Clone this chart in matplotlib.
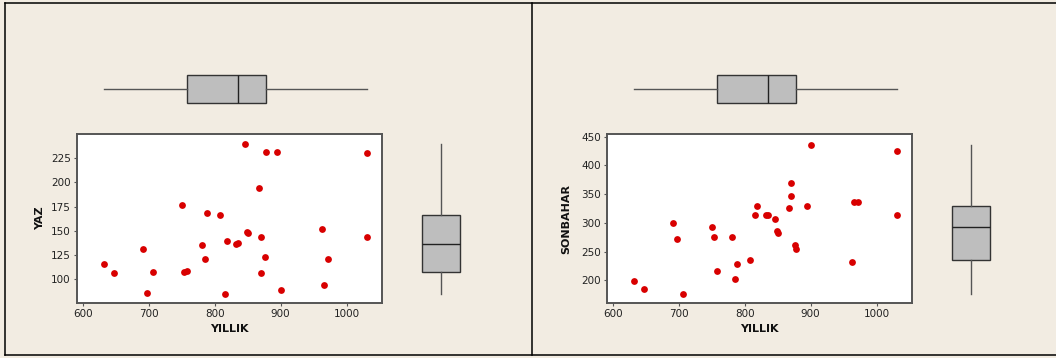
import numpy as np
import matplotlib.pyplot as plt
from matplotlib.lines import Line2D

# annual totals and seasonal values
yillik = [632, 647, 692, 698, 706, 750, 753, 758, 781, 785, 788, 808, 816, 819, 832, 835,
          846, 849, 851, 867, 870, 870, 876, 878, 894, 901, 962, 966, 972, 1031, 1031]
yaz = [116, 106, 131, 86, 107, 177, 108, 109, 135, 121, 168, 166, 85, 140, 136, 137,
       240, 149, 148, 194, 144, 106, 123, 231, 231, 89, 152, 94, 121, 230, 144]
sonbahar = [198, 185, 300, 271, 177, 292, 276, 216, 276, 203, 229, 235, 313, 329, 313, 313,
            306, 286, 282, 326, 370, 347, 262, 255, 329, 436, 232, 336, 336, 425, 313]

x_ticks = [600, 700, 800, 900, 1000]
yaz_ticks = [100, 125, 150, 175, 200, 225]
son_ticks = [200, 250, 300, 350, 400, 450]

W, H = 1056, 358
BG = '#F2ECE2'
DOT = '#D80000'
BOX_FILL = '#BEBEBE'


def px_axes(fig, x0, y0, x1, y1):
    """Add axes given a pixel box (top-left origin)."""
    return fig.add_axes([x0 / W, 1 - y1 / H, (x1 - x0) / W, (y1 - y0) / H])


def box_stats(values):
    """Quartiles the way Minitab computes them, whiskers at 1.5 IQR."""
    v = np.asarray(values, dtype=float)
    q1, med, q3 = np.percentile(v, [25, 50, 75], method='weibull')
    iqr = q3 - q1
    lo = v[v >= q1 - 1.5 * iqr].min()
    hi = v[v <= q3 + 1.5 * iqr].max()
    return [dict(med=med, q1=q1, q3=q3, whislo=lo, whishi=hi, fliers=[])]


def draw_box(ax, values, vert, width):
    ax.bxp(box_stats(values), positions=[0], widths=width, vert=vert,
           showcaps=False, patch_artist=True,
           boxprops=dict(facecolor=BOX_FILL, edgecolor='#333333', linewidth=1.0),
           medianprops=dict(color='#222222', linewidth=1.0),
           whiskerprops=dict(color='#555555', linewidth=1.0))
    ax.set_axis_off()


def panel(fig, left, yvals, ylabel, yticks, ylim, label_x):
    sx0, sx1 = left + 77, left + 382
    sy0, sy1 = 134, 303
    xlim = (591.5, 1053.5)

    ax = px_axes(fig, sx0, sy0, sx1, sy1)
    ax.set_facecolor('white')
    ax.scatter(yillik, yvals, s=24, color=DOT, zorder=3, linewidths=0)
    ax.set_xlim(*xlim)
    ax.set_ylim(*ylim)
    ax.set_xticks(x_ticks)
    ax.set_yticks(yticks)
    ax.tick_params(labelsize=7.5, length=2.5, width=0.8, colors='#555555',
                   labelcolor='#222222', pad=2)
    for s in ax.spines.values():
        s.set_color('#555555')
        s.set_linewidth(1.4)
    fig.text((sx0 + sx1) / 2 / W, 1 - 329 / H, 'YILLIK', ha='center', va='center',
             fontsize=8, fontweight='bold', color='#111111')
    fig.text(label_x / W, 1 - (sy0 + sy1) / 2 / H, ylabel, ha='center', va='center',
             rotation=90, fontsize=8, fontweight='bold', color='#111111')

    # marginal box plot on top, same x scale
    top = px_axes(fig, sx0, 60, sx1, 118)
    draw_box(top, yillik, vert=False, width=28 / 58 * 2)
    top.set_xlim(*xlim)
    top.set_ylim(-1, 1)

    # marginal box plot on the right, same y scale
    rx = left + 441
    side = px_axes(fig, rx - 41, sy0, rx + 41, sy1)
    draw_box(side, yvals, vert=True, width=38 / 82 * 2)
    side.set_ylim(*ylim)
    side.set_xlim(-1, 1)


fig = plt.figure(figsize=(W / 100, H / 100), dpi=100, facecolor=BG)

panel(fig, 0, yaz, 'YAZ', yaz_ticks, (75.5, 250), 40)
panel(fig, 530, sonbahar, 'SONBAHAR', son_ticks, (160.5, 454.5), 566)

# panel frames
for xs, ys in [([5, 5], [3, 355]), ([5, W], [3, 3]), ([5, W], [355, 355]),
               ([532, 532], [3, 355])]:
    fig.add_artist(Line2D([x / W for x in xs], [1 - y / H for y in ys],
                          color='black', linewidth=1.1, transform=fig.transFigure))

fig.savefig('out.png', dpi=100, facecolor=BG)
